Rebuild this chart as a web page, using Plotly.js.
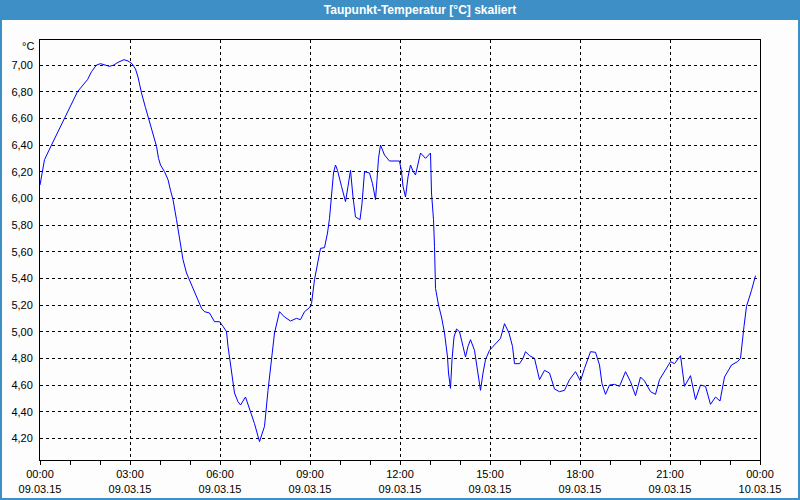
<!DOCTYPE html>
<html>
<head>
<meta charset="utf-8">
<script src="https://cdn.plot.ly/plotly-3.0.1.min.js"></script>
<style>
  html, body { margin: 0; padding: 0; background: #fcfdfc; }
  #chart { width: 800px; height: 500px; }
</style>
</head>
<body>
<div id="chart"></div>
<script>
// Time of day in minutes after 09.03.15 00:00
const minutes = [
  0, 9, 23, 36, 49, 63, 75, 86, 95, 103, 113, 121, 129, 139, 148, 156, 168, 176, 184, 191,
  196, 203, 211, 219, 228, 233, 237, 241, 249, 256, 261, 266, 273, 279, 286, 293, 303, 313, 323, 329,
  339, 349, 359, 366, 373, 376, 383, 389, 396, 401, 411, 419, 429, 439, 449, 456, 463, 469, 479, 489,
  501, 513, 521, 529, 539, 543, 549, 556, 561, 569, 575, 579, 584, 587, 591, 595, 603, 611, 616, 621,
  626, 631, 640, 644, 649, 659, 665, 671, 674, 677, 681, 689, 699, 719, 723, 726, 731, 736, 741, 746,
  751, 756, 761, 771, 781, 783, 787, 789, 791, 797, 803, 809, 815, 817, 821, 824, 828, 833, 839, 846,
  851, 856, 861, 869, 875, 881, 886, 891, 899, 909, 921, 929, 938, 945, 949, 959, 966, 971, 979, 989,
  999, 1009, 1019, 1029, 1039, 1049, 1059, 1071, 1081, 1089, 1101, 1111, 1119, 1124, 1131, 1139, 1149, 1159, 1171, 1181,
  1191, 1201, 1209, 1221, 1231, 1239, 1249, 1261, 1269, 1281, 1289, 1301, 1311, 1321, 1331, 1341, 1351, 1360, 1369, 1383,
  1395, 1401, 1408, 1413, 1423, 1431
];
// Dew point temperature [°C]
const dewPoint = [
  6.10, 6.29, 6.40, 6.50, 6.61, 6.71, 6.80, 6.85, 6.89, 6.95, 7.00, 7.01, 7.00, 6.99, 7.00, 7.02, 7.04, 7.03, 7.01, 6.97,
  6.91, 6.79, 6.68, 6.575, 6.46, 6.39, 6.30, 6.25, 6.20, 6.14, 6.06, 5.99, 5.84, 5.69, 5.54, 5.44, 5.35, 5.26, 5.175, 5.15,
  5.14, 5.075, 5.075, 5.04, 5.00, 4.89, 4.69, 4.54, 4.475, 4.45, 4.51, 4.425, 4.31, 4.175, 4.29, 4.56, 4.79, 4.99, 5.15, 5.11,
  5.08, 5.10, 5.09, 5.15, 5.18, 5.21, 5.39, 5.54, 5.625, 5.63, 5.74, 5.85, 6.04, 6.19, 6.25, 6.21, 6.09, 5.975, 6.09, 6.21,
  6.01, 5.86, 5.84, 5.96, 6.20, 6.19, 6.11, 5.99, 6.14, 6.30, 6.40, 6.325, 6.28, 6.28, 6.20, 6.09, 6.01, 6.16, 6.25, 6.205,
  6.175, 6.26, 6.34, 6.30, 6.34, 6.04, 5.84, 5.64, 5.325, 5.20, 5.11, 4.99, 4.81, 4.69, 4.575, 4.79, 4.96, 5.02, 5.00, 4.89,
  4.81, 4.89, 4.94, 4.86, 4.69, 4.56, 4.69, 4.79, 4.86, 4.90, 4.95, 5.06, 4.99, 4.89, 4.76, 4.76, 4.80, 4.85, 4.82, 4.80,
  4.64, 4.71, 4.69, 4.57, 4.55, 4.56, 4.64, 4.70, 4.63, 4.725, 4.85, 4.845, 4.75, 4.61, 4.53, 4.60, 4.605, 4.59, 4.70, 4.625,
  4.52, 4.66, 4.63, 4.55, 4.53, 4.64, 4.70, 4.775, 4.76, 4.82, 4.59, 4.67, 4.49, 4.60, 4.59, 4.455, 4.51, 4.48, 4.66, 4.75,
  4.775, 4.80, 5.04, 5.19, 5.31, 5.42
];
const tickMinutes = [0, 180, 360, 540, 720, 900, 1080, 1260, 1440];
const timeLabels = ['00:00', '03:00', '06:00', '09:00', '12:00', '15:00', '18:00', '21:00', '00:00'];
const dateLabels = ['09.03.15', '09.03.15', '09.03.15', '09.03.15', '09.03.15', '09.03.15', '09.03.15', '09.03.15', '10.03.15'];
const titleText = 'Taupunkt-Temperatur [°C] skaliert';
const unitLabel = '°C';

const FONT = 'Liberation Sans, Arial, sans-serif';
const BLUE = '#3d8fc5';
const W = 720, H = 420, ML = 40, MT = 40;

const trace = {
  x: minutes,
  y: dewPoint,
  type: 'scatter',
  mode: 'lines',
  line: { color: '#0000ff', width: 1 },
  hoverinfo: 'skip'
};

const layout = {
  width: 800,
  height: 500,
  margin: { l: 40, r: 40, t: 40, b: 40, pad: 0 },
  paper_bgcolor: '#fcfdfc',
  plot_bgcolor: '#fcfdfc',
  separators: ',.',
  showlegend: false,
  font: { family: FONT, size: 11, color: '#000000' },
  title: {
    text: titleText,
    font: { family: FONT, size: 12, color: '#ffffff', weight: 'bold' },
    x: 0.525, xref: 'container', xanchor: 'center',
    y: 0.98, yref: 'container', yanchor: 'middle'
  },
  xaxis: {
    range: [0, 1440],
    tickmode: 'array',
    tickvals: tickMinutes,
    ticktext: tickMinutes.map((_, i) => timeLabels[i] + '<br>' + dateLabels[i]),
    ticks: 'outside', ticklen: 4, tickcolor: '#000000', tickwidth: 1,
    minor: { dtick: 60, tick0: 0, ticks: 'outside', ticklen: 4, tickcolor: '#000000', showgrid: false },
    showgrid: true, gridcolor: '#000000', gridwidth: 1, griddash: '3px,3px',
    showline: true, linecolor: '#000000', linewidth: 1, mirror: true,
    zeroline: false,
    tickfont: { family: FONT, size: 11, color: '#000000' },
    fixedrange: true
  },
  yaxis: {
    range: [4.0375, 7.1875],
    tickmode: 'linear', tick0: 4.2, dtick: 0.2,
    tickformat: '.2f',
    ticks: '',
    ticklabelstandoff: 4,
    showgrid: true, gridcolor: '#000000', gridwidth: 1, griddash: '3px,3px',
    showline: true, linecolor: '#000000', linewidth: 1, mirror: true,
    zeroline: false,
    tickfont: { family: FONT, size: 11, color: '#000000' },
    fixedrange: true
  },
  shapes: [
    { type: 'rect', xref: 'paper', yref: 'paper', layer: 'below',
      x0: -ML / W, x1: 1 + 40 / W, y0: 1 + 20 / H, y1: 1 + MT / H,
      fillcolor: BLUE, line: { width: 0 } },
    { type: 'rect', xref: 'paper', yref: 'paper', layer: 'above',
      x0: (-ML + 1) / W, x1: 1 + (40 - 1) / W, y0: -(40 - 1) / H, y1: 1 + (MT - 1) / H,
      fillcolor: 'rgba(0,0,0,0)', line: { color: BLUE, width: 2 } }
  ],
  annotations: [
    { text: unitLabel, xref: 'paper', yref: 'paper', x: -4 / W, y: 1 - 6 / H,
      xanchor: 'right', yanchor: 'middle', showarrow: false,
      font: { family: FONT, size: 11, color: '#000000' } }
  ]
};

Plotly.newPlot('chart', [trace], layout, { displayModeBar: false, staticPlot: true });
</script>
</body>
</html>
